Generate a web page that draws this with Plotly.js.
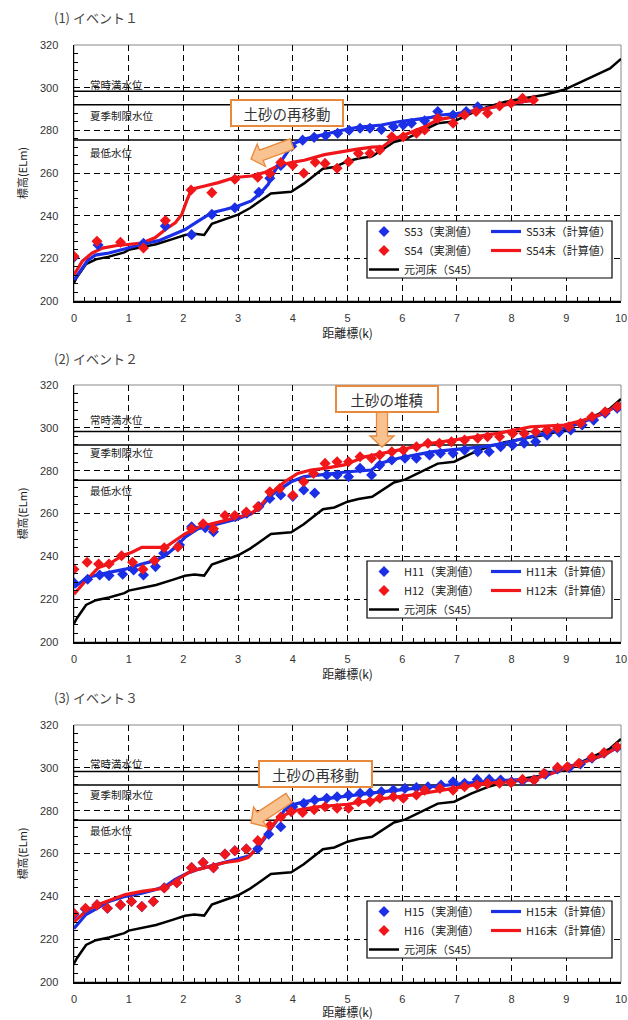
<!DOCTYPE html>
<html><head><meta charset="utf-8">
<script src="https://cdn.plot.ly/plotly-3.0.1.min.js"></script>
<style>html,body{margin:0;padding:0;background:#fff}</style>
</head><body><div id="chart" style="width:628px;height:1020px"></div>
<script>
// ---------------- DATA ----------------
const panelTitles = ['(1) イベント１', '(2) イベント２', '(3) イベント３'];
const obsNames = [['S53（実測値）','S54（実測値）'],['H11（実測値）','H12（実測値）'],['H15（実測値）','H16（実測値）']];
const calcNames = [['S53末（計算値）','S54末（計算値）'],['H11末（計算値）','H12末（計算値）'],['H15末（計算値）','H16末（計算値）']];
const baseName = '元河床（S45）';
const levelValues = [298.3, 292.0, 275.5];
const levelLabels = ['常時満水位', '夏季制限水位', '最低水位'];
const noteTexts = ['土砂の再移動', '土砂の堆積', '土砂の再移動'];

// original bed (S45) – same in all panels
const baseK = [0,0.05,0.22,0.4,0.64,0.92,1.0,1.2,1.5,1.8,2.03,2.2,2.38,2.52,2.76,3.0,3.22,3.42,3.6,3.97,4.2,4.55,4.76,5.0,5.2,5.45,5.85,6.05,6.35,6.65,6.95,7.26,7.56,7.87,8.23,8.59,8.96,9.38,9.8,10.0];
const baseE = [208.5,211,217.3,219.5,220.8,222.8,224,225,226.6,229,230.9,231.5,231,236.2,238.3,240.5,243.6,247.3,250.4,251.2,255,262,262.8,265.5,266.8,267.8,274.5,275.8,279.5,283.3,284.2,288,291,293.3,295,296.6,299,304,309,313.5];

// Event 1
const s53CalcK = [0,0.1,0.25,0.39,0.64,0.94,1.24,1.55,1.79,2.03,2.27,2.52,2.76,3.0,3.24,3.42,3.55,3.67,3.79,3.91,4.0,4.21,4.58,4.88,5.18,5.62,5.93,6.23,6.53,6.71,7.0,7.4,8.0,8.42];
const s53CalcE = [209.8,213.5,219,221.5,222.5,224.5,226.7,228.3,231.1,233.5,237.4,241.4,242.9,244.5,246.9,250.8,254.7,261,265.7,270.4,273.6,275.9,278.3,279.9,281.4,282.5,284,285.2,286.1,287.2,287.8,289.6,292.6,294.2];
const s54CalcK = [0,0.15,0.33,0.52,0.76,1.0,1.24,1.48,1.67,1.85,1.97,2.06,2.15,2.39,2.64,2.94,3.24,3.48,3.73,3.97,4.21,4.58,4.88,5.18,5.45,5.65,5.81,6.11,6.41,6.65,6.96,7.26,7.56,7.99,8.42];
const s54CalcE = [212.3,218.6,222.5,224.8,225.9,226.7,227.2,229.6,233.5,236.6,240.6,246.9,252.4,253.9,255.5,257.9,258.6,260.2,263.4,264.9,266,268.6,270,271.2,272.1,272.4,275.5,278.6,281.7,284.9,286.4,288.7,290.3,292.6,294.2];
const s53ObsK = [0,0.44,1.27,1.67,2.15,2.52,2.94,3.38,3.58,3.78,3.98,4.18,4.39,4.6,4.82,5.03,5.23,5.41,5.62,5.84,6.02,6.17,6.41,6.65,6.93,7.17,7.38];
const s53ObsE = [220.5,226.3,227,235.1,231.1,240.6,243.7,251,257.5,263.5,272.5,275.4,276.7,277.6,278.6,280,281,281,280.4,281.7,282.5,283.3,284.5,288.8,287.2,288.8,291];
const s54ObsK = [0,0.42,0.85,1.27,1.67,2.14,2.52,2.94,3.36,3.58,3.78,4.0,4.2,4.41,4.59,4.81,5.02,5.2,5.41,5.59,5.81,6.02,6.26,6.41,6.65,6.93,7.14,7.35,7.56,7.78,7.99,8.2,8.4];
const s54ObsE = [221,228,227.5,224.8,237.7,252,250.8,257.1,258,259.8,264.9,263.6,259.9,265,264.5,262.2,265.3,269.2,269.2,270.8,277,277,278.6,280.2,285.6,283.3,287.2,288.8,288,291.4,292.7,295,294.2];

// Event 2
const h11CalcK = [0,0.24,0.64,0.94,1.24,1.48,1.67,1.85,2.03,2.27,2.52,2.76,3.0,3.24,3.42,3.6,3.79,3.97,4.21,4.58,5.02,5.44,5.59,5.93,6.23,6.53,6.84,7.14,7.5,7.87,8.23,8.59,8.96,9.32,9.69,10.0];
const h11CalcE = [225.4,230.1,232.5,234,236.4,238,240.3,244.2,248.9,252.9,254.4,256,257.6,259.9,263.1,268.5,271.7,274.8,277.2,278.4,279.5,280.3,283.4,285.8,287.3,288.8,289.6,290.4,291.2,292.8,295.1,297.4,299.8,302.8,306.8,311.4];
const h12CalcK = [0,0.21,0.45,0.64,0.88,1.06,1.24,1.48,1.67,1.85,2.03,2.27,2.52,2.76,3.0,3.24,3.42,3.6,3.85,4.09,4.33,4.58,4.94,5.32,5.93,6.53,7.14,7.75,8.35,8.96,9.32,9.69,10.0];
const h12CalcE = [222.3,228.5,234.8,236.4,240.3,241.9,244.2,244.2,244.2,247.4,250.5,253.6,255.2,256.8,258.4,259.9,263.9,269.3,274.8,278.7,280.3,281.1,282.7,286.5,289.6,292.8,295.1,297.4,300.5,301.3,303.6,306.8,311.4];
const h11ObsK = [0,0.25,0.47,0.64,0.89,1.09,1.27,1.49,1.64,1.93,2.15,2.4,2.55,2.95,3.16,3.38,3.58,3.78,4.0,4.2,4.4,4.62,4.81,5.02,5.23,5.44,5.59,5.81,6.05,6.26,6.5,6.7,6.93,7.14,7.38,7.59,7.8,8.02,8.23,8.44,8.65,8.87,9.08,9.29,9.5,9.71,9.93];
const h11ObsE = [227.7,229.3,231.3,231,231.6,233.6,231.3,235.2,241.4,245.3,253.8,253.4,251.5,258.5,260.1,263.2,267,268.6,268,271,269.6,278,278,277.2,281.1,278,282.6,285,285.8,285.8,287.3,288.1,288.1,289.6,288.8,288.8,291.2,292,292.8,293.5,296.6,298,299,301.3,303.6,306.8,309.1];
const h12ObsK = [0,0.24,0.45,0.64,0.87,1.07,1.26,1.47,1.65,1.9,2.15,2.36,2.55,2.76,2.94,3.15,3.36,3.58,3.76,4.0,4.2,4.38,4.59,4.81,5.02,5.23,5.44,5.59,5.81,6.02,6.26,6.47,6.68,6.9,7.14,7.38,7.56,7.78,8.02,8.23,8.44,8.65,8.84,9.05,9.26,9.47,9.71,9.93];
const h12ObsE = [234,237.2,236.4,236.4,240.3,237.2,234,238,244,244.4,252.9,255.2,252.9,259.1,259.1,260.7,263.1,270.1,271.7,268.5,274.8,278.7,283.4,284.2,284.2,286.5,285.8,287.3,288.8,289.6,291.2,292.8,292.8,293.5,294.3,295.1,295.8,295.8,297.4,297.4,298.2,299,299.8,300.5,302.1,305.2,307.5,309.8];

// Event 3
const h15CalcK = [0,0.21,0.42,0.64,0.94,1.24,1.48,1.67,1.85,2.09,2.27,2.52,2.76,3.0,3.21,3.36,3.48,3.6,3.73,3.85,3.97,4.21,4.58,5.02,5.62,6.23,6.84,7.44,7.99,8.35,8.72,8.96,9.32,9.69,10.0];
const h15CalcE = [225,231.3,234.4,237.6,240,241.5,243.1,244.7,247.9,251,252.6,254.2,255.8,257.3,258.9,262.9,266.8,271.6,276.3,280.3,282.6,284.2,285.5,287,288.8,290.4,292,293.5,294.3,294.6,297.4,299.8,302.8,306,310.6];
const h16CalcK = [0,0.21,0.42,0.64,0.94,1.24,1.48,1.67,1.85,2.09,2.27,2.52,2.76,3.0,3.18,3.36,3.48,3.6,3.73,3.91,4.09,4.45,5.0,5.62,6.23,6.84,7.44,7.99,8.35,8.72,8.96,9.32,9.69,10.0];
const h16CalcE = [228.1,232.9,236,237.9,240.8,242.3,243.1,243.9,247.1,251,252.6,254.2,255.8,256.6,258.1,262.9,267.6,272.4,276.3,278.7,280.3,281.8,283,285.5,287.5,290,292.5,293.8,294.4,297.2,299.6,302.6,306,310.6];
const h15ObsK = [0,0.21,0.42,0.61,0.85,1.05,1.24,1.45,1.65,1.88,2.15,2.36,2.55,2.76,2.94,3.15,3.36,3.56,3.78,4.0,4.2,4.4,4.62,4.81,5.02,5.23,5.41,5.62,5.84,6.05,6.26,6.47,6.71,6.93,7.14,7.37,7.59,7.8,8.0,8.2,8.41,8.62,8.84,9.05,9.26,9.47,9.69,9.93];
const h15ObsE = [231.5,234,236,234.4,236,237.6,235.2,237.6,244,246.3,253.4,255.8,253.4,259.7,261.3,262.1,262.2,269,272.5,281.8,283.4,285,285.8,286.5,287.3,288.1,288.3,288.8,289.6,290.4,290.8,291.2,292,293.5,292.8,294.6,294.6,294.3,293.5,294,294.3,297,299.5,300,301.8,304.5,306.8,309.5];
const h16ObsK = [0,0.21,0.42,0.61,0.85,1.05,1.24,1.45,1.65,1.88,2.15,2.36,2.55,2.76,2.94,3.15,3.36,3.58,3.78,3.97,4.18,4.39,4.59,4.81,5.02,5.2,5.41,5.59,5.84,6.02,6.26,6.41,6.69,6.93,7.14,7.37,7.56,7.78,7.99,8.2,8.41,8.59,8.84,9.02,9.23,9.47,9.69,9.93];
const h16ObsE = [232.1,234.4,236,234.4,236,237.6,235.2,237.6,243.9,246.3,253.4,255.8,253.4,259.7,261.3,262.1,266,273.1,277,279.5,279.2,280.5,281.8,281.1,281.1,284.2,284.2,285.8,286.5,285.8,287.3,289.6,290.4,289.6,291.2,292,292.8,292.8,293,294.6,294.3,297.4,300.2,300.5,302.1,304.9,307.1,309.8];

const calcK = [[s53CalcK,s54CalcK],[h11CalcK,h12CalcK],[h15CalcK,h16CalcK]];
const calcE = [[s53CalcE,s54CalcE],[h11CalcE,h12CalcE],[h15CalcE,h16CalcE]];
const obsK = [[s53ObsK,s54ObsK],[h11ObsK,h12ObsK],[h15ObsK,h16ObsK]];
const obsE = [[s53ObsE,s54ObsE],[h11ObsE,h12ObsE],[h15ObsE,h16ObsE]];

// ---------------- LAYOUT GEOMETRY ----------------
const W = 628, H = 1020, ML = 74, MR = 7, MT = 45, MB = 38;
const PW = W - ML - MR, PH = H - MT - MB;
const xp = px => (px - ML) / PW;
const yp = py => (H - MB - py) / PH;
const panelTop = [45, 385, 725], panelBot = [301, 642, 982];
const domains = panelTop.map((t, i) => [yp(panelBot[i]), yp(t)]);
const titleY = [17, 358, 697];
const boxTop = [221, 561, 901];
const levelShift = [[7, -11, -13], [12, -8, -10], [8, -10, -10]];
const noteBox = [{cx: 287, cy: 113, w: 108}, {cx: 387, cy: 399, w: 98}, {cx: 315.5, cy: 774, w: 109}];
const arrows = [
  {tail: [292, 144], tip: [251, 159]},
  {tail: [382, 411], tip: [382, 447]},
  {tail: [289, 798], tip: [251, 823]}
];

const BLUE = '#1B2FE6', RED = '#F0161A', ORANGE = '#E8893C';
const JP = '"Noto Sans CJK JP", "Noto Sans", sans-serif';
const NUM = '"Liberation Sans", Arial, sans-serif';

function blockArrow(a, bw, hw, hl) {
  const [x0, y0] = a.tail, [x1, y1] = a.tip;
  const len = Math.hypot(x1 - x0, y1 - y0);
  const ux = (x1 - x0) / len, uy = (y1 - y0) / len;
  const nx = -uy, ny = ux;
  const bx = x1 - ux * hl, by = y1 - uy * hl;
  const pts = [
    [x0 + nx * bw, y0 + ny * bw], [bx + nx * bw, by + ny * bw], [bx + nx * hw, by + ny * hw],
    [x1, y1], [bx - nx * hw, by - ny * hw], [bx - nx * bw, by - ny * bw], [x0 - nx * bw, y0 - ny * bw]
  ];
  return 'M' + pts.map(p => xp(p[0]).toFixed(5) + ',' + yp(p[1]).toFixed(5)).join('L') + 'Z';
}

const traces = [];
const layout = {
  width: W, height: H, margin: {l: ML, r: MR, t: MT, b: MB, pad: 0},
  paper_bgcolor: '#fff', plot_bgcolor: '#fff',
  font: {family: JP, size: 11, color: '#222'},
  showlegend: true, shapes: [], annotations: []
};

for (let i = 0; i < 3; i++) {
  const sfx = i ? String(i + 1) : '';
  const xa = 'x' + sfx, ya = 'y' + sfx;
  const legA = i ? 'legend' + (2 * i + 1) : 'legend';
  const legB = 'legend' + (2 * i + 2);

  traces.push({x: baseK, y: baseE, xaxis: xa, yaxis: ya, mode: 'lines', name: baseName,
    line: {color: '#000', width: 2.5}, legend: legA, legendrank: 3, hoverinfo: 'skip'});
  traces.push({x: calcK[i][0], y: calcE[i][0], xaxis: xa, yaxis: ya, mode: 'lines', name: calcNames[i][0],
    line: {color: BLUE, width: 3.2}, legend: legB, legendrank: 1});
  traces.push({x: calcK[i][1], y: calcE[i][1], xaxis: xa, yaxis: ya, mode: 'lines', name: calcNames[i][1],
    line: {color: RED, width: 3.2}, legend: legB, legendrank: 2});
  traces.push({x: obsK[i][0], y: obsE[i][0], xaxis: xa, yaxis: ya, mode: 'markers', name: obsNames[i][0],
    marker: {symbol: 'diamond', size: 8.5, color: BLUE}, legend: legA, legendrank: 1});
  traces.push({x: obsK[i][1], y: obsE[i][1], xaxis: xa, yaxis: ya, mode: 'markers', name: obsNames[i][1],
    marker: {symbol: 'diamond', size: 8.5, color: RED}, legend: legA, legendrank: 2});

  layout['xaxis' + sfx] = {
    anchor: ya, domain: [0, 1], range: [0, 10], tick0: 0, dtick: 1, fixedrange: true,
    showgrid: true, gridcolor: '#000', gridwidth: 1, griddash: '6px,4px', zeroline: false,
    showline: true, linecolor: '#000', linewidth: 1.5, ticks: '', ticklabelstandoff: 6,
    ticklabeloverflow: 'allow',
    minor: {dtick: 0.2, ticks: 'inside', ticklen: 4, tickcolor: '#000', tickwidth: 1, showgrid: false},
    tickfont: {family: NUM, size: 11, color: '#333'},
    title: {text: '距離標(k)', font: {family: JP, size: 12, color: '#222'}, standoff: 4}
  };
  layout['yaxis' + sfx] = {
    anchor: xa, domain: domains[i], range: [200, 320], tick0: 200, dtick: 20, fixedrange: true,
    showgrid: true, gridcolor: '#000', gridwidth: 1, griddash: '6px,4px', zeroline: false,
    showline: true, linecolor: '#000', linewidth: 1.5, ticks: '', ticklabelstandoff: 12,
    minor: {dtick: 4, ticks: 'inside', ticklen: 4, tickcolor: '#000', tickwidth: 1, showgrid: false},
    tickfont: {family: NUM, size: 11, color: '#333'},
    title: {text: '標高(ELm)', font: {family: JP, size: 11, color: '#222'}, standoff: 10}
  };

  // plot border (top/right)
  layout.shapes.push({type: 'rect', xref: xa + ' domain', yref: ya + ' domain', x0: 0, x1: 1, y0: 0, y1: 1,
    line: {color: '#888', width: 1}, layer: 'below'});
  // reference water levels
  levelValues.forEach((v, j) => {
    layout.shapes.push({type: 'line', xref: xa + ' domain', yref: ya, x0: 0, x1: 1, y0: v, y1: v,
      line: {color: '#000', width: 1.6}, layer: 'below'});
    layout.annotations.push({xref: xa + ' domain', yref: ya, x: xp(88), y: v, yshift: levelShift[i][j],
      xanchor: 'left', yanchor: 'middle', showarrow: false, text: levelLabels[j],
      font: {family: JP, size: 10.5, color: '#222'}});
  });

  // legends (two columns) + framing box
  const bt = boxTop[i];
  layout.shapes.push({type: 'rect', xref: 'paper', yref: 'paper', x0: xp(367), x1: xp(612), y0: yp(bt + 57), y1: yp(bt),
    fillcolor: '#fff', line: {color: '#000', width: 1.2}, layer: 'above'});
  const legStyle = {xanchor: 'left', yanchor: 'top', bgcolor: 'rgba(0,0,0,0)', borderwidth: 0,
    font: {family: JP, size: 11, color: '#222'}, itemwidth: 30, tracegroupgap: 0, itemclick: false, itemdoubleclick: false};
  layout[legA] = Object.assign({x: xp(364), y: yp(bt - 4)}, legStyle);
  layout[legB] = Object.assign({x: xp(486), y: yp(bt - 4)}, legStyle);

  // panel title
  layout.annotations.push({xref: 'paper', yref: 'paper', x: xp(52), y: yp(titleY[i]), xanchor: 'left', yanchor: 'middle',
    showarrow: false, text: panelTitles[i], font: {family: JP, size: 13, color: '#444'}});

  // orange note box
  const nb = noteBox[i];
  layout.annotations.push({xref: 'paper', yref: 'paper', x: xp(nb.cx), y: yp(nb.cy), xanchor: 'center', yanchor: 'middle',
    showarrow: false, text: noteTexts[i], width: nb.w, height: 22, bgcolor: '#fff', bordercolor: ORANGE, borderwidth: 2, borderpad: 1,
    font: {family: JP, size: 14.5, color: '#333'}});
  // block arrow
  layout.shapes.push({type: 'path', xref: 'paper', yref: 'paper', path: blockArrow(arrows[i], 5.5, 12, 11),
    fillcolor: '#F8C390', line: {color: ORANGE, width: 1.3}, layer: 'above'});
}

Plotly.newPlot('chart', traces, layout, {staticPlot: true, displayModeBar: false});
</script></body></html>
